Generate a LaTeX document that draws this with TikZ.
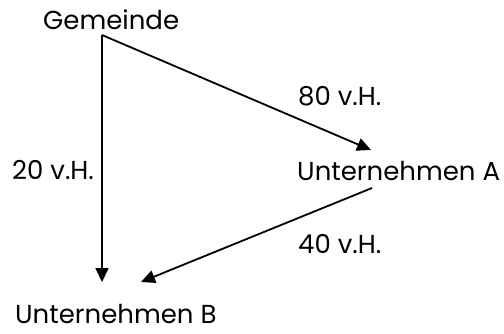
\documentclass[tikz,border=0pt]{standalone}
\usepackage{fontspec}
\setmainfont{Poppins}
\usetikzlibrary{arrows.meta}
\begin{document}
\begin{tikzpicture}[x=1pt,y=1pt,
  lbl/.style={inner sep=0pt,anchor=base west,font=\fontsize{26}{30}\selectfont},
  arr/.style={line width=1.8pt,-{Triangle[length=14pt,width=13pt]}}]
\useasboundingbox (0,0) rectangle (504,333);
\node[lbl] (gem) at (43,303) {Gemeinde};
\node[lbl] (ua) at (297,153) {Unternehmen A};
\node[lbl] (ub) at (15,9.5) {Unternehmen B};
\node[lbl] (p80) at (298,228) {80 v.H.};
\node[lbl] (p20) at (12,154) {20 v.H.};
\node[lbl] (p40) at (298,80) {40 v.H.};
\coordinate (s) at (102,298);
\coordinate (ta) at (371,183);
\coordinate (tb) at (102,51);
\coordinate (sa) at (372,145);
\coordinate (tb2) at (141,51);
\draw[arr] (s) -- (tb);
\draw[arr] (s) -- (ta);
\draw[arr] (sa) -- (tb2);
\end{tikzpicture}
\end{document}
